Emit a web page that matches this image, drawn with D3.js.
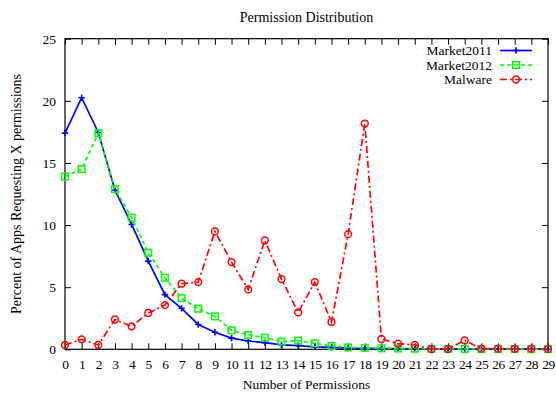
<!DOCTYPE html>
<html>
<head>
<meta charset="utf-8">
<script src="https://cdn.jsdelivr.net/npm/d3@7"></script>
<style>
  html, body { margin: 0; padding: 0; background: #fff; }
  svg { display: block; }
  text { font-family: "Liberation Serif", "DejaVu Serif", serif; fill: #000; }
</style>
</head>
<body>
<svg id="chart" width="556" height="395"></svg>
<script>
// Number of permissions requested (x categories)
const permissions = d3.range(0, 30);

// Percent of apps requesting X permissions
const market2011 = [17.4, 20.25, 17.45, 12.8, 10.05, 7.1, 4.4, 3.3, 2.0, 1.37,
  0.9, 0.67, 0.54, 0.35, 0.3, 0.2, 0.15, 0.1, 0.08, 0.06,
  0.05, 0.04, 0.03, 0.03, 0.02, 0.02, 0.02, 0.01, 0.01, 0.01];
const market2012 = [13.9, 14.5, 17.4, 12.9, 10.6, 7.77, 5.76, 4.12, 3.27, 2.65,
  1.53, 1.15, 0.94, 0.62, 0.7, 0.48, 0.27, 0.15, 0.1, 0.08,
  0.06, 0.05, 0.04, 0.03, 0.03, 0.02, 0.02, 0.02, 0.01, 0.01];
const malware = [0.35, 0.8, 0.35, 2.4, 1.85, 2.92, 3.56, 5.28, 5.41, 9.49,
  7.02, 4.82, 8.76, 5.65, 2.97, 5.41, 2.2, 9.27, 18.17, 0.83,
  0.46, 0.35, 0.02, 0.02, 0.72, 0.05, 0.05, 0.04, 0.05, 0.03];

const yTicks = [0, 5, 10, 15, 20, 25];

const seriesList = [
  { name: "Market2011", values: market2011, color: "#0000ff", dash: null, marker: "plus" },
  { name: "Market2012", values: market2012, color: "#00ff00", dash: "4,3", marker: "square" },
  { name: "Malware", values: malware, color: "#ff0000", dash: "7,3,2,3", marker: "circle" }
];

const svg = d3.select("#chart");
const plotLeft = 65, plotRight = 548, plotTop = 38.7, plotBottom = 349.3;

const x = d3.scaleLinear().domain([0, 29]).range([plotLeft, plotRight]);
const y = d3.scaleLinear().domain([0, 25]).range([plotBottom, plotTop]);

// Frame
svg.append("rect")
  .attr("x", plotLeft).attr("y", plotTop)
  .attr("width", plotRight - plotLeft).attr("height", plotBottom - plotTop)
  .attr("fill", "none").attr("stroke", "#000").attr("stroke-width", 1.2);

// Axes with inward ticks on all four sides
const tickLen = 6;
const fontSize = 13.5;

const xBottom = d3.axisBottom(x).tickValues(permissions).tickFormat(d3.format("d"))
  .tickSizeInner(-tickLen).tickSizeOuter(0).tickPadding(tickLen + 4);
const gxb = svg.append("g").attr("transform", `translate(0,${plotBottom})`).call(xBottom);

const xTop = d3.axisTop(x).tickValues(permissions).tickFormat("")
  .tickSizeInner(-tickLen).tickSizeOuter(0);
const gxt = svg.append("g").attr("transform", `translate(0,${plotTop})`).call(xTop);

const yLeft = d3.axisLeft(y).tickValues(yTicks).tickFormat(d3.format("d"))
  .tickSizeInner(-tickLen).tickSizeOuter(0).tickPadding(tickLen + 3);
const gyl = svg.append("g").attr("transform", `translate(${plotLeft},0)`).call(yLeft);

const yRight = d3.axisRight(y).tickValues(yTicks).tickFormat("")
  .tickSizeInner(-tickLen).tickSizeOuter(0);
const gyr = svg.append("g").attr("transform", `translate(${plotRight},0)`).call(yRight);

[gxb, gxt, gyl, gyr].forEach(g => {
  g.select(".domain").remove();
  g.selectAll(".tick line").attr("stroke", "#000").attr("stroke-width", 1);
  g.selectAll("text")
    .style("font-family", '"Liberation Serif", "DejaVu Serif", serif')
    .style("font-size", fontSize + "px")
    .attr("fill", "#000");
});
gxb.selectAll("text").style("letter-spacing", "-0.4px");

// Titles
svg.append("text")
  .attr("x", (plotLeft + plotRight) / 2).attr("y", 22)
  .attr("text-anchor", "middle").style("font-size", "14px")
  .text("Permission Distribution");

svg.append("text")
  .attr("x", (plotLeft + plotRight) / 2).attr("y", 389)
  .attr("text-anchor", "middle").style("font-size", "13.5px")
  .text("Number of Permissions");

svg.append("text")
  .attr("transform", `translate(21,${(plotTop + plotBottom) / 2}) rotate(-90)`)
  .attr("text-anchor", "middle").style("font-size", "14px")
  .text("Percent of Apps Requesting X permissions");

// Marker drawing helper
function drawMarker(g, kind, cx, cy, color) {
  if (kind === "plus") {
    g.append("path")
      .attr("d", `M${cx - 3.2},${cy}H${cx + 3.2}M${cx},${cy - 3.2}V${cy + 3.2}`)
      .attr("stroke", color).attr("stroke-width", 1.6).attr("fill", "none");
  } else if (kind === "square") {
    g.append("rect")
      .attr("x", cx - 3.3).attr("y", cy - 3.3).attr("width", 6.6).attr("height", 6.6)
      .attr("stroke", color).attr("stroke-width", 1.5).attr("fill", "none");
  } else {
    g.append("circle")
      .attr("cx", cx).attr("cy", cy).attr("r", 3.4)
      .attr("stroke", color).attr("stroke-width", 1.5).attr("fill", "none");
  }
}

const line = d3.line().x((d, i) => x(permissions[i])).y(d => y(d));

const plot = svg.append("g");
seriesList.forEach(s => {
  const g = plot.append("g");
  g.append("path")
    .datum(s.values)
    .attr("d", line)
    .attr("fill", "none")
    .attr("stroke", s.color)
    .attr("stroke-width", 1.7)
    .attr("stroke-dasharray", s.dash);
  s.values.forEach((v, i) => drawMarker(g, s.marker, x(permissions[i]), y(v), s.color));
});

// Legend
const legend = svg.append("g");
seriesList.forEach((s, i) => {
  const ly = 50.5 + i * 14.5;
  legend.append("text")
    .attr("x", 492).attr("y", ly + 4.7)
    .attr("text-anchor", "end").style("font-size", "13.5px")
    .text(s.name);
  legend.append("line")
    .attr("x1", 500).attr("x2", 532).attr("y1", ly).attr("y2", ly)
    .attr("stroke", s.color).attr("stroke-width", 1.7)
    .attr("stroke-dasharray", s.dash);
  drawMarker(legend, s.marker, 516, ly, s.color);
});
</script>
</body>
</html>
